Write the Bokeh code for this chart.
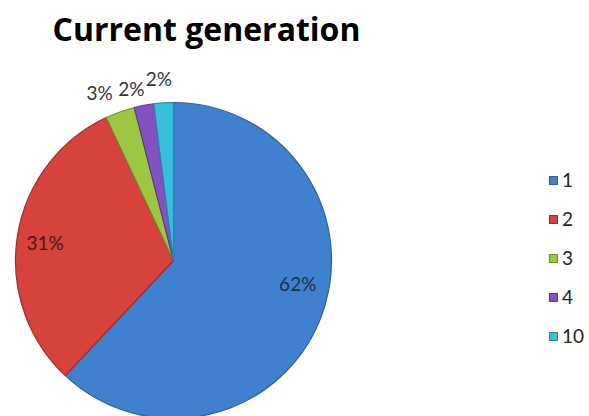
import math
from bokeh.plotting import figure
from bokeh.models import Range1d, Legend, LegendItem, ColumnDataSource
from bokeh.core.properties import value
from bokeh.embed import file_html
from bokeh.resources import INLINE

# ---- data ----
categories = ["1", "2", "3", "4", "10"]
shares = [62, 31, 3, 2, 2]
pct_labels = ["62%", "31%", "3%", "2%", "2%"]
title_text = "Current generation"

# ---- style ----
fill_colors = ["#3F80CF", "#D8423C", "#9CC741", "#8352C2", "#36BEDB"]
edge_colors = ["#2D5F9E", "#9E2E2A", "#6E8F2C", "#5E3A8E", "#2689A0"]
label_colors = ["#1E2F4A", "#4A1816", "#333333", "#333333", "#333333"]
label_radius = [0.80, 0.82, 1.16, 1.12, 1.155]
label_nudge_deg = [-11, -1, -4, -3, -1]

W, H = 589, 416
cx, cy, R = 173, H - 260, 158

p = figure(width=W, height=H, output_backend="svg", toolbar_location=None,
           x_range=Range1d(0, W), y_range=Range1d(0, H),
           x_axis_type=None, y_axis_type=None, min_border=0)
p.outline_line_color = None
p.grid.visible = False
p.background_fill_color = "white"

total = float(sum(shares))
cum = 0.0
starts, ends, mids = [], [], []
for s in shares:
    a0 = math.pi / 2 - 2 * math.pi * cum / total
    cum += s
    a1 = math.pi / 2 - 2 * math.pi * cum / total
    starts.append(a0)
    ends.append(a1)
    mids.append((a0 + a1) / 2)

src = ColumnDataSource(dict(x=[cx] * len(shares), y=[cy] * len(shares),
                            start=starts, end=ends, fill=fill_colors,
                            edge=edge_colors, cat=categories))
r = p.wedge(x="x", y="y", radius=R, start_angle="start", end_angle="end",
            direction="clock", fill_color="fill", line_color="edge",
            line_width=1.2, source=src)

# percentage labels
lx, ly = [], []
for m, f, n in zip(mids, label_radius, label_nudge_deg):
    a = m - math.radians(n)
    lx.append(cx + f * R * math.cos(a))
    ly.append(cy + f * R * math.sin(a))
p.text(x=lx, y=ly, text=pct_labels, text_align="center", text_baseline="middle",
       text_font=value("Lato"), text_font_size="19px", text_color=label_colors)

# title
p.text(x=[206], y=[H - 28], text=[title_text], text_align="center",
       text_baseline="middle", text_font=value("Open Sans"),
       text_font_size="32px", text_font_style="bold", text_color="black")

items = [LegendItem(label=c, renderers=[r], index=i) for i, c in enumerate(categories)]
legend = Legend(items=items, location=(548, 69), orientation="vertical",
                glyph_width=10, glyph_height=10, label_height=20, spacing=16,
                padding=0, margin=0, label_standoff=4,
                label_text_font="Lato", label_text_font_size="19px",
                label_text_color="#222222", border_line_color=None,
                background_fill_alpha=0)
p.add_layout(legend, "center")

open("out.html", "w").write(file_html(p, INLINE))
